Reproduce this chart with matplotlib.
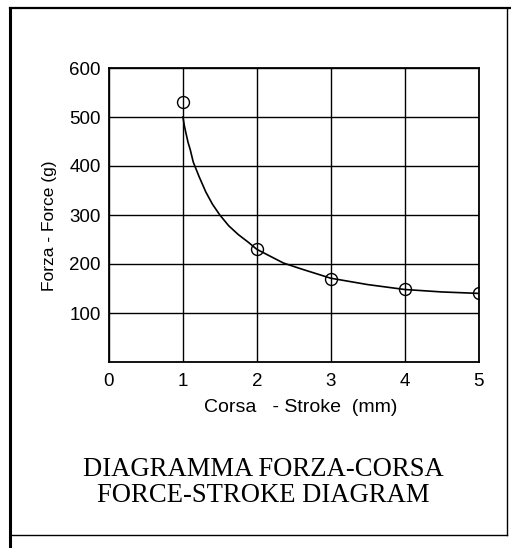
import matplotlib
matplotlib.use("Agg")
import matplotlib.pyplot as plt
from matplotlib.lines import Line2D

# measured points (circles)
stroke_mm = [1, 2, 3, 4, 5]
force_g = [530, 230, 170, 148, 140]

# fitted curve
curve_x = [1.0, 1.02, 1.04, 1.07, 1.10, 1.14, 1.22, 1.31, 1.40, 1.50, 1.62, 1.75, 1.88,
           2.0, 2.18, 2.36, 2.6, 3.0, 3.5, 4.0, 4.5, 5.0]
curve_y = [500, 482, 468, 448, 433, 408, 378, 347, 322, 300, 278, 260, 245,
           230, 216, 202, 190, 171, 158, 148, 143, 140]

x_ticks = [0, 1, 2, 3, 4, 5]
y_ticks = [100, 200, 300, 400, 500, 600]

title_lines = ["DIAGRAMMA FORZA-CORSA", "FORCE-STROKE DIAGRAM"]

W, H = 511, 548
fig = plt.figure(figsize=(W / 100, H / 100), dpi=100)
fig.patch.set_facecolor("white")

ax = fig.add_axes([109 / W, 1 - 362 / H, 369.5 / W, 294 / H])
ax.set_xlim(0, 5)
ax.set_ylim(0, 600)

ax.set_xticks(x_ticks)
ax.set_yticks(y_ticks)
ax.grid(True, color="black", linewidth=1.0)
ax.set_axisbelow(True)
ax.tick_params(length=0, labelsize=13.5, pad=8)
ax.tick_params(axis="y", pad=6)
for lab in ax.get_xticklabels() + ax.get_yticklabels():
    lab.set_family("Liberation Sans")
for sp in ax.spines.values():
    sp.set_linewidth(1.3)
    sp.set_color("black")

ax.plot(curve_x, curve_y, color="black", linewidth=1.2, zorder=3)
ax.plot(stroke_mm, force_g, linestyle="none", marker="o", markersize=8.6,
        markerfacecolor="none", markeredgecolor="black", markeredgewidth=1.0, zorder=4)

ax.set_xlabel("Corsa   - Stroke  (mm)", family="Liberation Sans", fontsize=14)
ax.set_ylabel("Forza - Force (g)", family="Liberation Sans", fontsize=12.5)
ax.yaxis.set_label_coords(-0.141, 0.465)
ax.xaxis.set_label_coords(0.52, -0.125)

for i, line in enumerate(title_lines):
    fig.text(263 / W, 1 - (469 + 27 * i) / H, line, family="Liberation Serif",
             fontsize=19.2, ha="center", va="center")

# outer frame
frame = [((10 / W, 10 / W), (0, 1 - 8 / H), 2.2),
         ((10 / W, 1), (1 - 8 / H, 1 - 8 / H), 1.6),
         ((507 / W, 507 / W), (1 - 535 / H, 1 - 8 / H), 1.0),
         ((10 / W, 507 / W), (1 - 535 / H, 1 - 535 / H), 1.0)]
for xs, ys, lw in frame:
    fig.add_artist(Line2D(xs, ys, color="black", linewidth=lw))

fig.savefig("out.png", dpi=100)
